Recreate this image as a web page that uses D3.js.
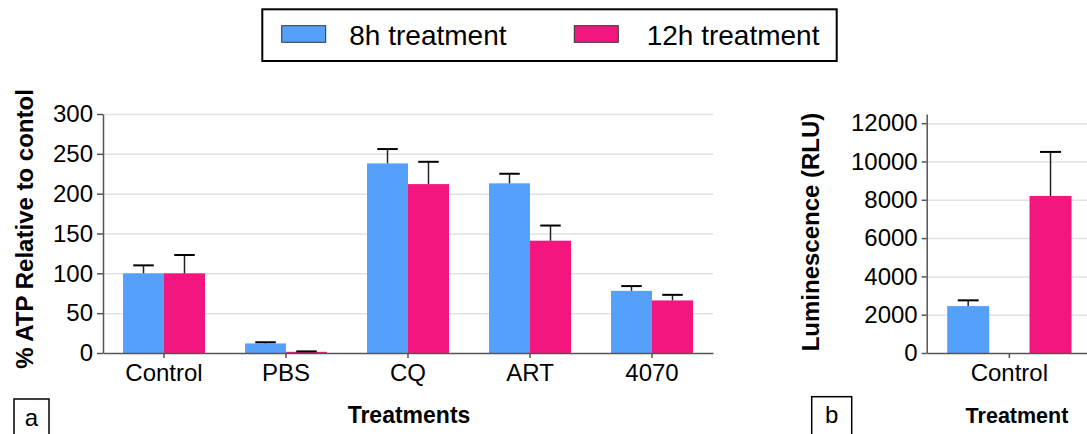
<!DOCTYPE html>
<html>
<head>
<meta charset="utf-8">
<script src="https://cdn.jsdelivr.net/npm/d3@7"></script>
<style>
  body { margin: 0; background: #fff; }
  svg { display: block; font-family: "Liberation Sans", Arial, sans-serif; }
  .grid line { stroke: #e2e2e2; stroke-width: 1.5; }
  .grid path { display: none; }
  .axis path, .axis line { stroke: #555; stroke-width: 1.5; }
  .axis text { font-size: 24px; fill: #000; }
</style>
</head>
<body>
<svg id="chart" width="1087" height="434"></svg>
<script>
// data
var series = ['8h treatment', '12h treatment'];
var colors = ['#55a0fb', '#f4167f'];

var categories = ['Control', 'PBS', 'CQ', 'ART', '4070'];
var atp8h = [100, 12, 238, 213, 78];
var atp8hErr = [10, 1.5, 18, 12, 6];
var atp12h = [100, 1.5, 212, 141, 66];
var atp12hErr = [23, 0.5, 28, 19, 7];
var atpTicks = [0, 50, 100, 150, 200, 250, 300];

var lumCategories = ['Control'];
var lum8h = [2450];
var lum8hErr = [300];
var lum12h = [8200];
var lum12hErr = [2300];
var lumTicks = [0, 2000, 4000, 6000, 8000, 10000, 12000];

var svg = d3.select('#chart');

function drawPanel(opt) {
    var rows = [];
    opt.cats.forEach((c, i) => {
        rows.push({cat: c, s: series[0], v: opt.a[i], e: opt.aErr[i], col: colors[0]});
        rows.push({cat: c, s: series[1], v: opt.b[i], e: opt.bErr[i], col: colors[1]});
    });

    var x0 = d3.scaleBand()
        .domain(opt.cats)
        .range(opt.xRange)
        .paddingInner(opt.padIn)
        .paddingOuter(opt.padOut);

    var x1 = d3.scaleBand()
        .domain(series)
        .range([0, x0.bandwidth()])
        .paddingInner(opt.subPad);

    var y = d3.scaleLinear()
        .domain(opt.yDomain)
        .range([353, 114]);

    // gridlines
    svg.append('g')
        .attr('class', 'grid')
        .attr('transform', 'translate(' + opt.xRange[0] + ',0)')
        .call(d3.axisLeft(y).tickValues(opt.ticks.slice(1)).tickSize(-(opt.xRange[1] - opt.xRange[0])).tickFormat(''));

    var g = svg.append('g');

    g.selectAll('rect.bar')
        .data(rows)
        .enter().append('rect')
        .attr('class', 'bar')
        .attr('x', (d) => x0(d.cat) + x1(d.s))
        .attr('y', (d) => y(d.v))
        .attr('width', x1.bandwidth())
        .attr('height', (d) => y(0) - y(d.v))
        .attr('fill', (d) => d.col);

    // error bars (upper only)
    g.selectAll('line.stem')
        .data(rows)
        .enter().append('line')
        .attr('x1', (d) => x0(d.cat) + x1(d.s) + x1.bandwidth() / 2)
        .attr('x2', (d) => x0(d.cat) + x1(d.s) + x1.bandwidth() / 2)
        .attr('y1', (d) => y(d.v))
        .attr('y2', (d) => y(d.v + d.e))
        .attr('stroke', '#222')
        .attr('stroke-width', 1.5);

    g.selectAll('line.cap')
        .data(rows)
        .enter().append('line')
        .attr('x1', (d) => x0(d.cat) + x1(d.s) + x1.bandwidth() / 4)
        .attr('x2', (d) => x0(d.cat) + x1(d.s) + x1.bandwidth() * 3 / 4)
        .attr('y1', (d) => y(d.v + d.e))
        .attr('y2', (d) => y(d.v + d.e))
        .attr('stroke', '#000')
        .attr('stroke-width', 2);

    svg.append('g')
        .attr('class', 'axis')
        .attr('transform', 'translate(0,353)')
        .call(d3.axisBottom(x0).tickSize(5).tickPadding(6).tickSizeOuter(0));

    svg.append('g')
        .attr('class', 'axis')
        .attr('transform', 'translate(' + opt.xRange[0] + ',0)')
        .call(d3.axisLeft(y).tickValues(opt.ticks).tickFormat(d3.format('d'))
            .tickSize(opt.tick).tickPadding(4).tickSizeOuter(0));

    svg.append('text')
        .attr('transform', 'translate(' + opt.yTitleX + ',' + opt.yTitleY + ') rotate(-90)')
        .attr('text-anchor', 'middle')
        .attr('font-size', 24)
        .attr('font-weight', 'bold')
        .text(opt.yTitle);

    svg.append('text')
        .attr('x', opt.xTitleX)
        .attr('y', 423)
        .attr('text-anchor', 'middle')
        .attr('font-size', opt.xTitleSize)
        .attr('font-weight', 'bold')
        .text(opt.xTitle);

    // panel letter
    svg.append('rect')
        .attr('x', opt.box[0]).attr('y', opt.box[1])
        .attr('width', opt.box[2]).attr('height', 60)
        .attr('fill', 'none').attr('stroke', '#000').attr('stroke-width', 1.5);
    svg.append('text')
        .attr('x', opt.box[0] + opt.box[2] / 2)
        .attr('y', opt.letterY)
        .attr('text-anchor', 'middle')
        .attr('font-size', 24)
        .text(opt.letter);
}

drawPanel({
    cats: categories, a: atp8h, aErr: atp8hErr, b: atp12h, bErr: atp12hErr,
    xRange: [103, 713], padIn: 0.328, padOut: 0.164, subPad: 0,
    yDomain: [0, 300], ticks: atpTicks, tick: 6,
    yTitle: '% ATP Relative to contol', yTitleX: 33, yTitleY: 229,
    xTitle: 'Treatments', xTitleX: 409, xTitleSize: 23,
    box: [14, 399, 35], letter: 'a', letterY: 426
});

drawPanel({
    cats: lumCategories, a: lum8h, aErr: lum8hErr, b: lum12h, bErr: lum12hErr,
    xRange: [926.7, 1092], padIn: 0, padOut: 0.165, subPad: 0.49,
    yDomain: [0, 12480], ticks: lumTicks, tick: 5,
    yTitle: 'Luminescence (RLU)', yTitleX: 819, yTitleY: 232,
    xTitle: 'Treatment', xTitleX: 1017, xTitleSize: 21.5,
    box: [811.7, 396.7, 40], letter: 'b', letterY: 423
});

// legend
var legend = svg.append('g');
legend.append('rect')
    .attr('x', 262.3).attr('y', 9.3)
    .attr('width', 574.4).attr('height', 51.7)
    .attr('fill', 'none').attr('stroke', '#000').attr('stroke-width', 2);

var legendX = [[281.7, 349.3], [574.3, 646.7]];
series.forEach((s, i) => {
    legend.append('rect')
        .attr('x', legendX[i][0]).attr('y', 25.7)
        .attr('width', 44).attr('height', 16.6)
        .attr('fill', colors[i]).attr('stroke', '#333').attr('stroke-width', 1);
    legend.append('text')
        .attr('x', legendX[i][1]).attr('y', 45)
        .attr('font-size', 28)
        .text(s);
});
</script>
</body>
</html>
